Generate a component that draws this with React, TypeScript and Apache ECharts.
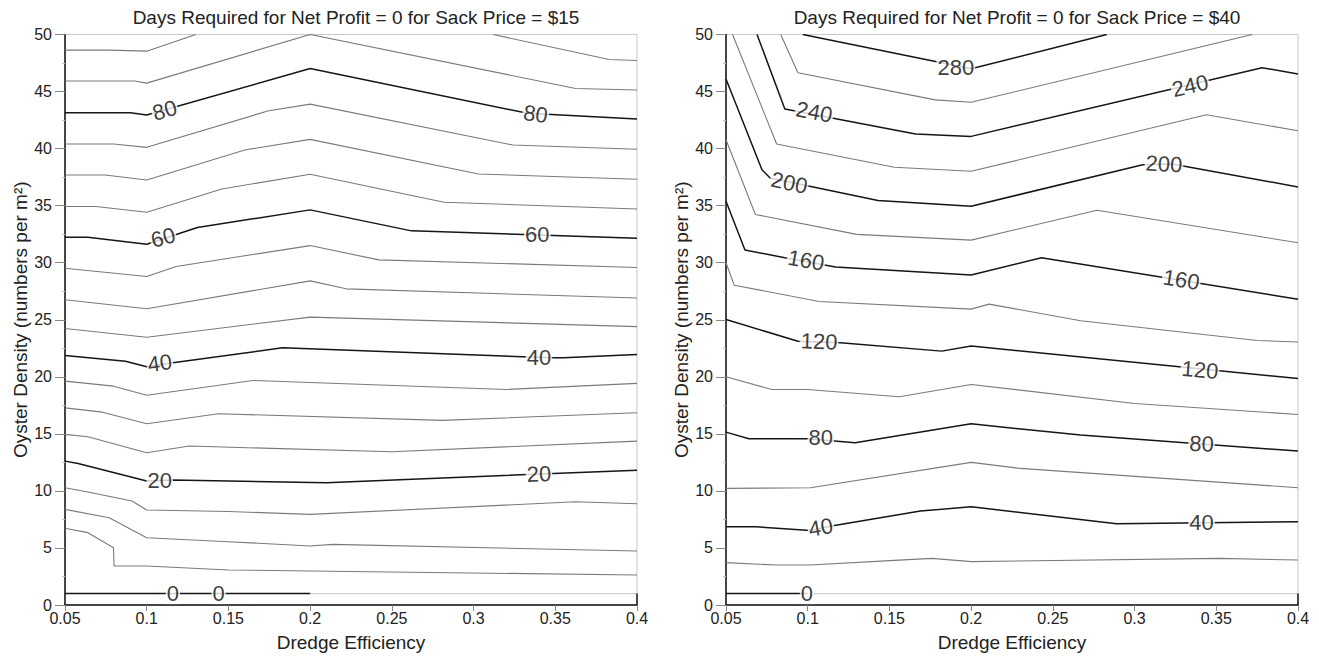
import React, { useEffect, useRef } from "react";
import * as echarts from "echarts";

type P = [number, number];

// ---------- Titles / axis texts ----------
const titleLeft = "Days Required for Net Profit = 0 for Sack Price = $15";
const titleRight = "Days Required for Net Profit = 0 for Sack Price = $40";
const xName = "Dredge Efficiency";
const yName = "Oyster Density (numbers per m\u00B2)";

// ---------- Left panel ($15) contour lines, [dredge efficiency, density] ----------
const L0: P[] = [[0.05, 1], [0.2, 1]];
const L0faint: P[] = [[0.2, 1], [0.4, 1]];
const L5: P[] = [[0.05, 6.72], [0.064, 6.34], [0.0797, 5.02], [0.08, 3.42], [0.1, 3.42], [0.15, 3.07], [0.2, 2.98], [0.4, 2.63]];
const L10: P[] = [[0.05, 8.38], [0.077, 7.65], [0.1, 5.9], [0.15, 5.55], [0.2, 5.17], [0.214, 5.31], [0.4, 4.73]];
const L15: P[] = [[0.05, 10.28], [0.064, 9.9], [0.091, 9.11], [0.1, 8.32], [0.15, 8.2], [0.2, 7.94], [0.3625, 9.05], [0.4, 8.88]];
const L20: P[] = [[0.05, 12.61], [0.058, 12.41], [0.1, 10.86], [0.116, 10.95], [0.21, 10.72], [0.4, 11.82]];
const L25: P[] = [[0.05, 14.95], [0.064, 14.74], [0.1, 13.34], [0.126, 13.93], [0.25, 13.43], [0.4, 14.36]];
const L30: P[] = [[0.05, 17.28], [0.073, 16.9], [0.1, 15.88], [0.144, 16.76], [0.281, 16.18], [0.4, 16.85]];
const L35: P[] = [[0.05, 19.62], [0.0797, 19.18], [0.1, 18.39], [0.165, 19.68], [0.32, 18.89], [0.4, 19.42]];
const L40: P[] = [[0.05, 21.87], [0.087, 21.37], [0.1, 20.88], [0.116, 21.23], [0.183, 22.54], [0.348, 21.66], [0.355, 21.66], [0.4, 21.96]];
const L45: P[] = [[0.05, 24.23], [0.1, 23.47], [0.2, 25.23], [0.4, 24.4]];
const L50: P[] = [[0.05, 26.75], [0.1, 25.96], [0.2, 28.41], [0.222, 27.71], [0.4, 26.9]];
const L55: P[] = [[0.05, 29.52], [0.1, 28.79], [0.118, 29.67], [0.2, 31.5], [0.242, 30.25], [0.4, 29.58]];
const L60: P[] = [[0.05, 32.23], [0.064, 32.23], [0.1, 31.62], [0.131, 33.08], [0.2, 34.63], [0.262, 32.79], [0.4, 32.15]];
const L65: P[] = [[0.05, 34.92], [0.069, 34.92], [0.1, 34.42], [0.146, 36.46], [0.2, 37.75], [0.282, 35.3], [0.4, 34.71]];
const L70: P[] = [[0.05, 37.69], [0.0745, 37.69], [0.1, 37.25], [0.16, 39.88], [0.2, 40.81], [0.303, 37.78], [0.4, 37.31]];
const L75: P[] = [[0.05, 40.4], [0.0797, 40.4], [0.1, 40.11], [0.174, 43.29], [0.2, 43.9], [0.324, 40.31], [0.4, 39.94]];
const L80: P[] = [[0.05, 43.14], [0.09, 43.14], [0.1, 42.94], [0.2, 47.02], [0.333, 43.09], [0.4, 42.59]];
const L85: P[] = [[0.05, 45.92], [0.0926, 45.92], [0.1, 45.74], [0.2, 50], [0.3625, 45.27], [0.4, 45.13]];
const L90a: P[] = [[0.05, 48.63], [0.077, 48.63], [0.1, 48.54], [0.13, 50]];
const L90b: P[] = [[0.312, 50], [0.383, 47.81], [0.4, 47.72]];

const leftMajor: P[][] = [L0, L20, L40, L60, L80];
const leftMinor: P[][] = [L5, L10, L15, L25, L30, L35, L45, L50, L55, L65, L70, L75, L85, L90a, L90b];

// contour labels: text, x, y, rotation (deg)
const leftLabelText = ["0", "0", "20", "20", "40", "40", "60", "60", "80", "80"];
const leftLabelX = [0.116, 0.144, 0.108, 0.34, 0.108, 0.34, 0.11, 0.339, 0.111, 0.338];
const leftLabelY = [1, 1, 10.9, 11.47, 21.2, 21.7, 32.2, 32.5, 43.35, 43.03];
const leftLabelRot = [0, 0, 0, 2, 8, 0, 15, 0, 16, -8];

// ---------- Right panel ($40) contour lines ----------
const R0: P[] = [[0.05, 1], [0.1, 1]];
const R0faint: P[] = [[0.1, 1], [0.4, 1]];
const R20: P[] = [[0.05, 3.71], [0.081, 3.5], [0.1016, 3.5], [0.153, 3.91], [0.176, 4.09], [0.2, 3.8], [0.352, 4.09], [0.4, 3.94]];
const R40: P[] = [[0.05, 6.86], [0.068, 6.86], [0.1016, 6.54], [0.1145, 6.92], [0.169, 8.23], [0.2, 8.61], [0.289, 7.12], [0.4, 7.3]];
const R60: P[] = [[0.05, 10.22], [0.1016, 10.28], [0.2, 12.5], [0.23, 11.97], [0.4, 10.28]];
const R80: P[] = [[0.05, 15.15], [0.064, 14.57], [0.1, 14.57], [0.129, 14.22], [0.2, 15.88], [0.267, 14.89], [0.4, 13.49]];
const R100: P[] = [[0.05, 20.0], [0.078, 18.89], [0.1, 18.89], [0.156, 18.25], [0.2, 19.33], [0.3, 17.66], [0.4, 16.7]];
const R120: P[] = [[0.05, 25.02], [0.094, 23.12], [0.12, 22.98], [0.182, 22.25], [0.2, 22.69], [0.4, 19.85]];
const R140: P[] = [[0.05, 30.0], [0.055, 28.03], [0.107, 26.6], [0.2, 25.93], [0.211, 26.37], [0.267, 24.91], [0.375, 23.18], [0.4, 23.05]];
const R160: P[] = [[0.05, 35.39], [0.0616, 31.11], [0.086, 30.44], [0.117, 29.63], [0.2, 28.93], [0.243, 30.44], [0.4, 26.8]];
const R180: P[] = [[0.05, 40.77], [0.068, 34.23], [0.13, 32.48], [0.2, 31.98], [0.277, 34.6], [0.4, 31.75]];
const R200: P[] = [[0.05, 46.1], [0.072, 38.15], [0.077, 37.43], [0.143, 35.45], [0.2, 34.95], [0.305, 38.59], [0.323, 38.65], [0.4, 36.64]];
const R220: P[] = [[0.054, 50], [0.081, 40.4], [0.153, 38.36], [0.2, 38.01], [0.344, 42.96], [0.4, 41.56]];
const R240: P[] = [[0.069, 50], [0.086, 43.48], [0.166, 41.27], [0.2, 41.07], [0.378, 47.09], [0.4, 46.54]];
const R260: P[] = [[0.0835, 50], [0.094, 46.65], [0.178, 44.27], [0.2, 44.06], [0.372, 50]];
const R280: P[] = [[0.097, 50], [0.2, 47.0], [0.283, 50]];

const rightMajor: P[][] = [R0, R40, R80, R120, R160, R200, R240, R280];
const rightMinor: P[][] = [R20, R60, R100, R140, R180, R220, R260];

const rightLabelText = ["0", "40", "40", "80", "80", "120", "120", "160", "160", "200", "200", "240", "240", "280"];
const rightLabelX = [0.0995, 0.108, 0.341, 0.108, 0.341, 0.107, 0.34, 0.099, 0.3286, 0.0887, 0.318, 0.104, 0.334, 0.1906];
const rightLabelY = [1, 6.8, 7.25, 14.65, 14.13, 23.1, 20.6, 30.2, 28.5, 37.0, 38.65, 43.2, 45.5, 47.15];
const rightLabelRot = [0, 10, 0, 0, -3, -2, -5, -10, -9, -12, -3, -11, 13, 0];

// small dark edge segment at the lower right corner of each panel
const edgeSeg: P[] = [[0.4, 0], [0.4, 1]];

const FONT = "'Liberation Sans', Arial, Helvetica, sans-serif";

function lineS(data: P[], idx: number, kind: "major" | "minor" | "faint") {
  const color = kind === "major" ? "#151515" : kind === "minor" ? "#7a7a7a" : "#cfcfcf";
  const width = kind === "major" ? 1.5 : 1.1;
  return {
    type: "line",
    xAxisIndex: idx,
    yAxisIndex: idx,
    data,
    symbol: "none",
    showSymbol: false,
    silent: true,
    z: 2,
    lineStyle: { color, width },
  };
}

function labelS(text: string[], xs: number[], ys: number[], rot: number[], idx: number) {
  return {
    type: "scatter",
    xAxisIndex: idx,
    yAxisIndex: idx,
    symbolSize: 1,
    silent: true,
    z: 10,
    itemStyle: { color: "rgba(0,0,0,0)" },
    data: text.map((t, i) => ({
      name: t,
      value: [xs[i], ys[i]],
      label: { rotate: rot[i] },
    })),
    label: {
      show: true,
      position: "inside",
      formatter: "{b}",
      fontSize: 22,
      fontFamily: FONT,
      color: "#0a0a0a",
      backgroundColor: "#fff",
      padding: [0, 1],
      lineHeight: 21,
    },
  };
}

const xAxisBase = (idx: number) => ({
  type: "value",
  gridIndex: idx,
  min: 0.05,
  max: 0.4,
  interval: 0.05,
  name: xName,
  nameLocation: "middle",
  nameGap: 28,
  nameTextStyle: { fontSize: 19, fontFamily: FONT, color: "#222" },
  axisLine: { show: true, onZero: false, lineStyle: { color: "#111", width: 1.5 } },
  axisTick: { show: true, inside: false, length: 6, lineStyle: { color: "#888" } },
  axisLabel: {
    fontSize: 16,
    fontFamily: FONT,
    color: "#222",
    margin: 5,
    formatter: (v: number) => String(+v.toFixed(2)),
  },
  splitLine: { show: false },
});

const yAxisBase = (idx: number) => ({
  type: "value",
  gridIndex: idx,
  min: 0,
  max: 50,
  interval: 5,
  name: yName,
  nameLocation: "middle",
  nameGap: 35,
  nameTextStyle: { fontSize: 19, fontFamily: FONT, color: "#222" },
  axisLine: { show: true, onZero: false, lineStyle: { color: "#111", width: 1.5 } },
  axisTick: { show: true, inside: false, length: 10, lineStyle: { color: "#888" } },
  minorTick: { show: true, splitNumber: 2, length: 3, lineStyle: { color: "#c4c4c4" } },
  axisLabel: { fontSize: 16, fontFamily: FONT, color: "#222", margin: 13 },
  splitLine: { show: false },
  minorSplitLine: { show: false },
});

export default function App() {
  const ref = useRef<HTMLDivElement>(null);
  useEffect(() => {
    if (!ref.current) return;
    const chart = echarts.init(ref.current, undefined, { renderer: "svg" });
    const series: any[] = [];
    leftMinor.forEach((d) => series.push(lineS(d, 0, "minor")));
    series.push(lineS(L0faint, 0, "faint"));
    leftMajor.forEach((d) => series.push(lineS(d, 0, "major")));
    series.push(lineS(edgeSeg, 0, "major"));
    rightMinor.forEach((d) => series.push(lineS(d, 1, "minor")));
    series.push(lineS(R0faint, 1, "faint"));
    rightMajor.forEach((d) => series.push(lineS(d, 1, "major")));
    series.push(lineS(edgeSeg, 1, "major"));
    series.push(labelS(leftLabelText, leftLabelX, leftLabelY, leftLabelRot, 0));
    series.push(labelS(rightLabelText, rightLabelX, rightLabelY, rightLabelRot, 1));

    chart.setOption({
      animation: false,
      backgroundColor: "#fff",
      textStyle: { fontFamily: FONT },
      title: [
        {
          text: titleLeft,
          left: 351,
          top: 3,
          textAlign: "center",
          textStyle: { fontSize: 19, fontWeight: "normal", fontFamily: FONT, color: "#222" },
        },
        {
          text: titleRight,
          left: 1012,
          top: 3,
          textAlign: "center",
          textStyle: { fontSize: 19, fontWeight: "normal", fontFamily: FONT, color: "#222" },
        },
      ],
      grid: [
        { left: 65, top: 34.5, width: 572, height: 573, show: true, borderColor: "#c8c8c8", borderWidth: 1, backgroundColor: "transparent" },
        { left: 726, top: 34.5, width: 572, height: 573, show: true, borderColor: "#c8c8c8", borderWidth: 1, backgroundColor: "transparent" },
      ],
      xAxis: [xAxisBase(0), xAxisBase(1)],
      yAxis: [yAxisBase(0), yAxisBase(1)],
      series,
    });
    return () => chart.dispose();
  }, []);
  return (
    <div
      ref={ref}
      style={{ position: "fixed", left: 0, top: 0, width: 1319, height: 657, background: "#fff" }}
    />
  );
}
